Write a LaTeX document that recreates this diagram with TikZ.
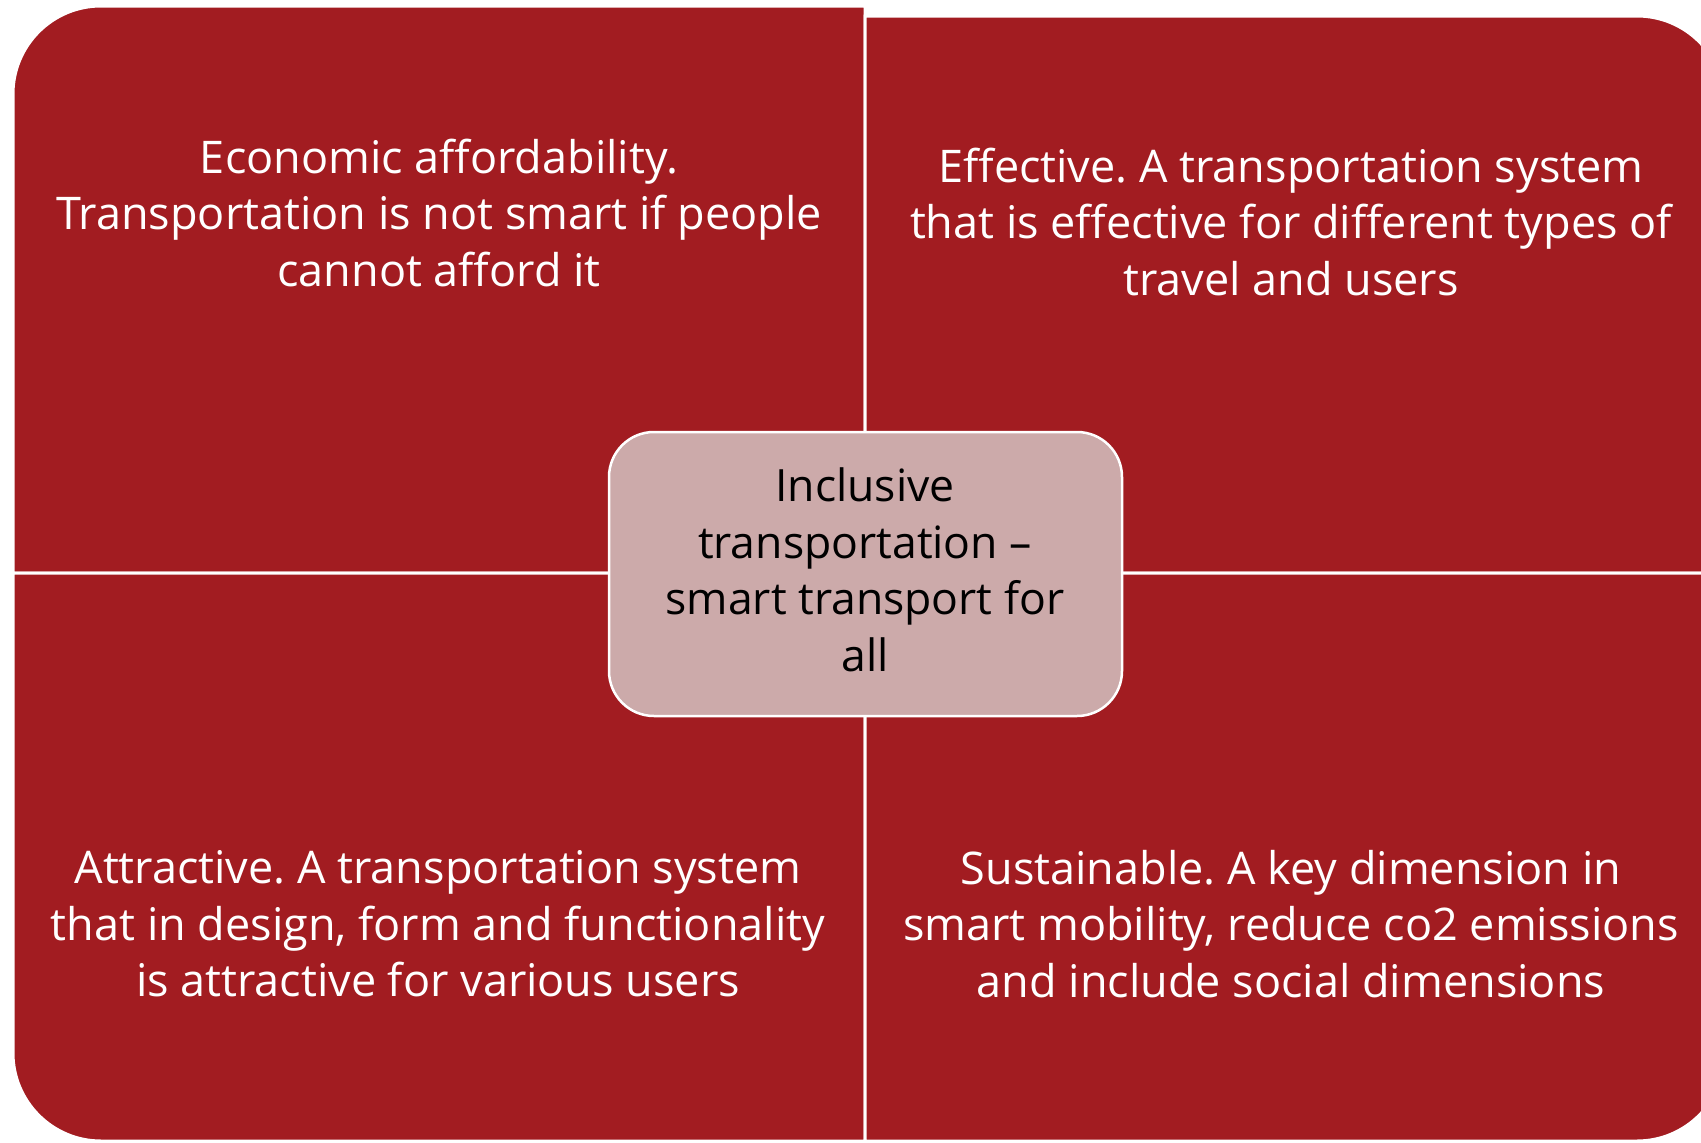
\documentclass[tikz,border=0pt]{standalone}
\usepackage{fontspec}
\setmainfont{Open Sans}
\frenchspacing
\definecolor{quadred}{HTML}{A21C21}
\definecolor{hubpink}{HTML}{CCAAAA}
\begin{document}
\begin{tikzpicture}[x=1pt,y=-1pt,
  quad/.style={fill=quadred,draw=white,line width=3pt},
  hub/.style={fill=hubpink,draw=white,line width=2.5pt},
  qtext/.style={text=white,align=center,inner sep=0pt,font=\fontsize{45}{56.5}\selectfont},
  htext/.style={text=black,align=center,inner sep=0pt,font=\fontsize{44.5}{56.5}\selectfont}]
\clip (0,0) rectangle (1701,1143);
\fill[white] (0,0) rectangle (1701,1143);
% quadrants
\path[quad] (865,573) -- (13,573) [rounded corners=88pt]-- (13,6) [sharp corners]-- (865,6) -- cycle;
\path[quad] (865,573) -- (865,16) [rounded corners=88pt]-- (1725,16) [sharp corners]-- (1725,573) -- cycle;
\path[quad] (865,573) -- (13,573) [rounded corners=88pt]-- (13,1141) [sharp corners]-- (865,1141) -- cycle;
\path[quad] (865,573) -- (865,1141) [rounded corners=88pt]-- (1725,1141) [sharp corners]-- (1725,573) -- cycle;
% hub
\node[hub,rounded corners=45pt,minimum width=513pt,minimum height=284pt,inner sep=0pt] (hubbox) at (865.5,574) {};
\node[htext] (hub) at (865,570) {Inclusive\\transportation –\\smart transport for\\all};
% quadrant texts
\node[qtext] (econ) at (439,213) {Economic affordability.\\Transportation is not smart if people\\cannot afford it};
\node[qtext] (eff) at (1291,222) {Effective. A transportation system\\that is effective for different types of\\travel and users};
\node[qtext] (attr) at (438,924) {Attractive. A transportation system\\that in design, form and functionality\\is attractive for various users};
\node[qtext] (sust) at (1291,924) {Sustainable. A key dimension in\\smart mobility, reduce co2 emissions\\and include social dimensions};
\end{tikzpicture}
\end{document}
